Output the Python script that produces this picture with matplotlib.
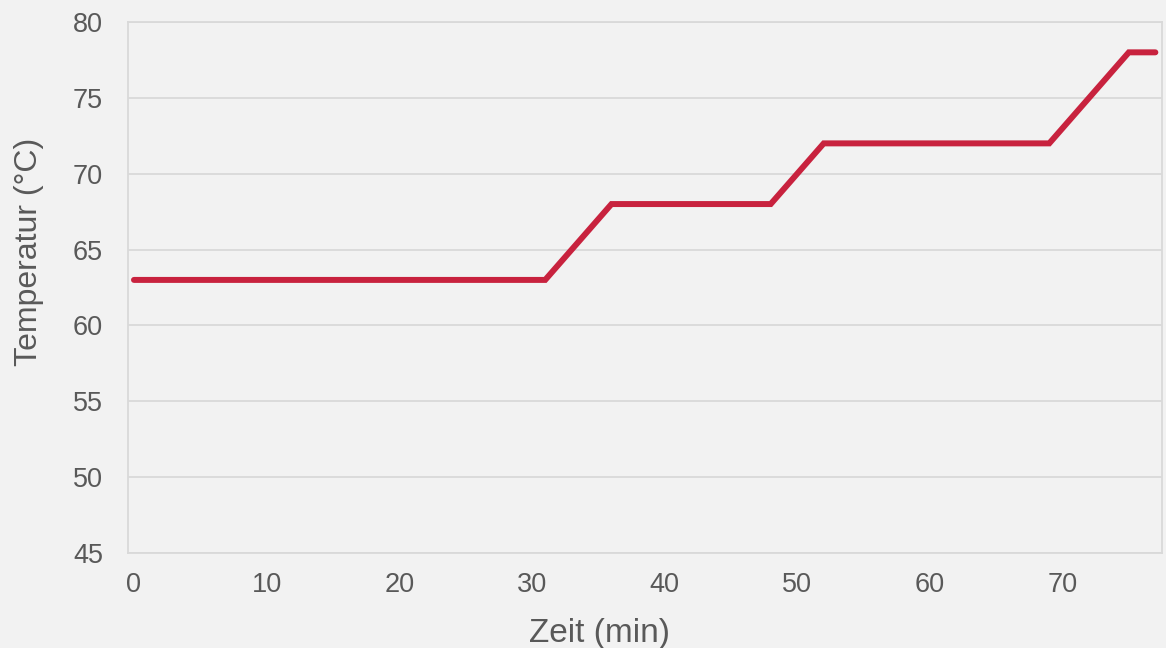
import matplotlib
matplotlib.use("Agg")
import matplotlib.pyplot as plt

# Temperature profile over time
zeit_min = [0, 31, 36, 48, 52, 69, 75, 77]
temperatur_c = [63, 63, 68, 68, 72, 72, 78, 78]
x_ticks = [0, 10, 20, 30, 40, 50, 60, 70]
y_ticks = [45, 50, 55, 60, 65, 70, 75, 80]

bg = "#F2F2F2"
grid_col = "#D9D9D9"
text_col = "#595959"
line_col = "#C8223E"

plt.rcParams["font.family"] = ["Liberation Sans", "DejaVu Sans"]

fig = plt.figure(figsize=(11.66, 6.48), dpi=100, facecolor=bg)
ax = fig.add_axes([128 / 1166, 95 / 648, 1034 / 1166, 531 / 648], facecolor=bg)

ax.plot(zeit_min, temperatur_c, color=line_col, linewidth=4.3,
        solid_capstyle="round", solid_joinstyle="miter", zorder=3)

ax.set_xlim(-0.45, 77.5)
ax.set_ylim(45, 80)
ax.set_xticks(x_ticks)
ax.set_yticks(y_ticks)
ax.yaxis.grid(True, color=grid_col, linewidth=1.3)
ax.set_axisbelow(True)

for s in ax.spines.values():
    s.set_color(grid_col)
    s.set_linewidth(1.3)

ax.tick_params(axis="both", length=0, labelsize=19.5, labelcolor=text_col)
ax.tick_params(axis="y", pad=18)
ax.tick_params(axis="x", pad=14)

ax.set_xlabel("Zeit (min)", fontsize=24, color=text_col)
ax.set_ylabel("Temperatur (°C)", fontsize=23, color=text_col)
ax.xaxis.set_label_coords(0.456, -0.151)
ax.xaxis.label.set_va("center")
ax.yaxis.set_label_coords(-0.0957, 0.568)
ax.yaxis.label.set_va("center")

fig.savefig("out.png", dpi=100, facecolor=bg)
